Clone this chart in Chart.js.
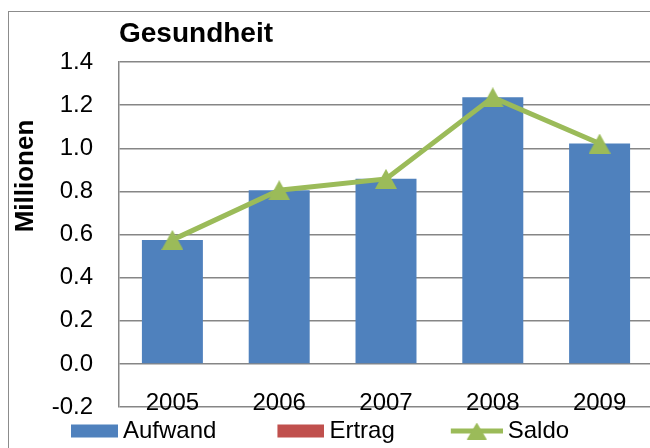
<!DOCTYPE html>
<html>
<head>
<meta charset="utf-8">
<script src="https://cdn.jsdelivr.net/npm/chart.js@4.4.1/dist/chart.umd.min.js"></script>
<style>
  html, body { margin: 0; padding: 0; background: #fff; }
  #wrap { position: relative; width: 650px; height: 448px; overflow: hidden; }
  #rahmen { position: absolute; left: 8px; top: 11px; width: 700px; height: 500px;
            border-left: 1px solid #8c8c8c; border-top: 1px solid #8c8c8c; }
  #box { position: absolute; left: 0; top: 0; width: 653px; height: 453px; }
</style>
</head>
<body>
<div id="wrap">
  <div id="rahmen"></div>
  <div id="box"><canvas id="myChart"></canvas></div>
</div>
<script>
// Daten
var jahre = ["2005", "2006", "2007", "2008", "2009"];
var aufwand = [0.575, 0.805, 0.858, 1.236, 1.022];
var ertrag = [0, 0, 0, 0, 0];
var saldo = [0.575, 0.805, 0.858, 1.236, 1.022];
var yTicks = [-0.2, 0, 0.2, 0.4, 0.6, 0.8, 1.0, 1.2, 1.4];

var blau = "#4F81BD";
var rot = "#C0504D";
var gruen = "#9BBB59";
var grau = "#868686";
var schrift = "'Liberation Sans', Arial, sans-serif";

function dreieck(w, h) {
  var c = document.createElement("canvas");
  c.width = w;
  c.height = h;
  var g = c.getContext("2d");
  g.fillStyle = gruen;
  g.beginPath();
  g.moveTo(w / 2, 0);
  g.lineTo(w, h);
  g.lineTo(0, h);
  g.closePath();
  g.fill();
  return c;
}

// legend icons: mark sits at the right end of a wider transparent image
var iconBreite = 103;
function kasten(farbe) {
  var c = document.createElement("canvas");
  c.width = iconBreite;
  c.height = 24;
  var g = c.getContext("2d");
  g.fillStyle = farbe;
  g.fillRect(iconBreite - 47, 12 - 6.5, 47, 13);
  return c;
}
function linie() {
  var c = document.createElement("canvas");
  c.width = iconBreite;
  c.height = 24;
  var g = c.getContext("2d");
  g.strokeStyle = gruen;
  g.lineWidth = 5;
  g.beginPath();
  g.moveTo(iconBreite - 52, 12);
  g.lineTo(iconBreite, 12);
  g.stroke();
  g.drawImage(dreieck(20, 17), iconBreite - 26 - 10, 12 - 8.5);
  return c;
}
var legendeIcons = [kasten(blau), kasten(rot), linie()];

// y-Achsentitel "Millionen"
var achsenTitel = {
  id: "achsenTitel",
  afterDraw: function(chart) {
    var ctx = chart.ctx;
    var a = chart.chartArea;
    ctx.save();
    ctx.translate(26, a.top + 114);
    ctx.rotate(-Math.PI / 2);
    ctx.font = "bold 26px " + schrift;
    ctx.fillStyle = "#000";
    ctx.textAlign = "center";
    ctx.textBaseline = "middle";
    ctx.fillText("Millionen", 0, 0);
    ctx.restore();
  }
};

Chart.defaults.font.family = schrift;
Chart.defaults.font.size = 24;
Chart.defaults.color = "#000";

var ctx = document.getElementById("myChart").getContext("2d");
var chart = new Chart(ctx, {
  type: "bar",
  data: {
    labels: jahre,
    datasets: [
      {
        label: "Aufwand",
        data: aufwand,
        backgroundColor: blau,
        grouped: false,
        barPercentage: 1,
        categoryPercentage: 0.571,
        order: 1
      },
      {
        label: "Ertrag",
        data: ertrag,
        backgroundColor: rot,
        grouped: false,
        barPercentage: 1,
        categoryPercentage: 0.571,
        order: 1
      },
      {
        type: "line",
        label: "Saldo",
        data: saldo,
        borderColor: gruen,
        backgroundColor: gruen,
        borderWidth: 5,
        tension: 0,
        fill: false,
        pointStyle: dreieck(22, 20),
        pointRadius: 10,
        order: 0
      }
    ]
  },
  options: {
    responsive: true,
    maintainAspectRatio: false,
    animation: false,
    layout: { autoPadding: false, padding: { left: 10, right: 0, top: 0, bottom: 0 } },
    scales: {
      x: {
        position: { y: -0.2 },
        offset: true,
        grid: { display: false, drawTicks: false },
        border: { display: false },
        ticks: { padding: -18, maxRotation: 0 },
        afterFit: function(scale) {
          scale.paddingLeft = 0;
          scale.paddingRight = 0;
        }
      },
      y: {
        min: -0.2,
        max: 1.4,
        afterBuildTicks: function(scale) {
          scale.ticks = yTicks.map(function(v) { return { value: v }; });
        },
        afterFit: function(scale) {
          scale.width = 109;
        },
        grid: { color: grau, lineWidth: 1.5, drawTicks: false },
        border: { display: true, color: grau, width: 1.5 },
        ticks: {
          padding: 26,
          callback: function(v) {
            return Math.abs(v) < 1e-9 ? "0.0" : Number(v).toFixed(1);
          }
        }
      }
    },
    plugins: {
      title: {
        display: true,
        text: "Gesundheit",
        align: "start",
        fullSize: false,
        font: { size: 28, weight: "bold" },
        padding: { top: 17, bottom: 11.4 }
      },
      legend: {
        position: "bottom",
        align: "start",
        labels: {
          usePointStyle: true,
          pointStyleWidth: iconBreite - 14,
          padding: 12,
          textAlign: "left",
          generateLabels: function(chart) {
            var items = Chart.defaults.plugins.legend.labels.generateLabels(chart);
            items.sort(function(a, b) { return a.datasetIndex - b.datasetIndex; });
            items.forEach(function(it) {
              it.pointStyle = legendeIcons[it.datasetIndex];
            });
            return items;
          }
        }
      },
      tooltip: { enabled: false }
    }
  },
  plugins: [achsenTitel]
});
</script>
</body>
</html>
